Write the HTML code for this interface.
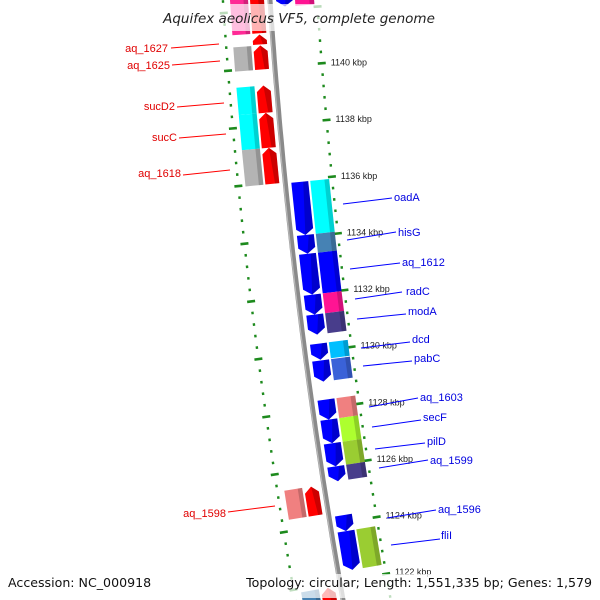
<!DOCTYPE html>
<html><head><meta charset="utf-8"><style>
html,body{margin:0;padding:0;background:#fff;overflow:hidden;width:600px;height:600px}
svg{display:block;font-family:"Liberation Sans","DejaVu Sans",sans-serif}
</style></head><body>
<svg id="map" width="600" height="600" viewBox="0 0 600 600" xmlns="http://www.w3.org/2000/svg">
<g id="ticks"></g>
<g id="backbone"></g>
<g id="genes"></g>
<g id="kbpLabels"></g>
<g font-size="11" fill="#e00000" stroke-width="1">
<line x1="171" y1="48" x2="219" y2="44" stroke="#ff0000"/><text x="168" y="52" text-anchor="end">aq_1627</text>
<line x1="172" y1="65" x2="220" y2="61" stroke="#ff0000"/><text x="170" y="69" text-anchor="end">aq_1625</text>
<line x1="177" y1="107" x2="224" y2="103" stroke="#ff0000"/><text x="175" y="110" text-anchor="end">sucD2</text>
<line x1="179" y1="138" x2="226" y2="134" stroke="#ff0000"/><text x="177" y="141" text-anchor="end">sucC</text>
<line x1="183" y1="175" x2="230" y2="170" stroke="#ff0000"/><text x="181" y="177" text-anchor="end">aq_1618</text>
<line x1="228" y1="512" x2="275" y2="506" stroke="#ff0000"/><text x="226" y="517" text-anchor="end">aq_1598</text>
</g>
<g font-size="11" fill="#0000e0">
<line x1="343" y1="204" x2="392" y2="198" stroke="#0000ff"/><text x="394" y="201">oadA</text>
<line x1="347" y1="240" x2="396" y2="232" stroke="#0000ff"/><text x="398" y="236">hisG</text>
<line x1="350" y1="269" x2="400" y2="263" stroke="#0000ff"/><text x="402" y="266">aq_1612</text>
<line x1="355" y1="299" x2="402" y2="292" stroke="#0000ff"/><text x="406" y="295">radC</text>
<line x1="357" y1="319" x2="406" y2="314" stroke="#0000ff"/><text x="408" y="315">modA</text>
<line x1="361" y1="348" x2="410" y2="342" stroke="#0000ff"/><text x="412" y="343">dcd</text>
<line x1="363" y1="366" x2="412" y2="361" stroke="#0000ff"/><text x="414" y="362">pabC</text>
<line x1="369" y1="407" x2="418" y2="398" stroke="#0000ff"/><text x="420" y="401">aq_1603</text>
<line x1="372" y1="427" x2="421" y2="420" stroke="#0000ff"/><text x="423" y="421">secF</text>
<line x1="375" y1="449" x2="425" y2="443" stroke="#0000ff"/><text x="427" y="445">pilD</text>
<line x1="379" y1="468" x2="428" y2="460" stroke="#0000ff"/><text x="430" y="464">aq_1599</text>
<line x1="387" y1="518" x2="436" y2="510" stroke="#0000ff"/><text x="438" y="513">aq_1596</text>
<line x1="391" y1="545" x2="440" y2="539" stroke="#0000ff"/><text x="441" y="539">fliI</text>
</g>
<rect x="150" y="4" width="300" height="27" fill="#fff" opacity="0.7"/>
<text x="299" y="23" text-anchor="middle" font-size="13.5" font-style="italic" fill="#222" font-family="DejaVu Sans, sans-serif">Aquifex aeolicus VF5, complete genome</text>
<rect x="0" y="574" width="600" height="24" fill="#fff" opacity="0.72"/>
<text x="8" y="587" font-size="12.6" fill="#111" font-family="DejaVu Sans, sans-serif">Accession: NC_000918</text>
<text x="592" y="587" text-anchor="end" font-size="12.6" fill="#111" font-family="DejaVu Sans, sans-serif">Topology: circular; Length: 1,551,335 bp; Genes: 1,579</text>
</svg>
<script>
// ---- data ----
const leftNames  = ["top-left","aq_1627","aq_1625","sucD2","sucC","aq_1618","aq_1598","bottom-left"];
const leftStart  = [1141.21,1140.82,1139.95,1138.44,1137.22,1135.96,1124.39,1120.66];
const leftEnd    = [1143.13,1141.17,1140.79,1139.39,1138.44,1137.22,1125.40,1121.87];
const leftColors = ["#ff2a96",null,"#b4b4b4","#00ffff","#00ffff","#b4b4b4","#f08080","#4682b4"];
const rightNames  = ["top-right","oadA","hisG","aq_1612","radC","modA","dcd","pabC","aq_1603","secF","pilD","aq_1599","aq_1596","fliI"];
const rightStart  = [1142.08,1134.07,1133.41,1131.98,1131.28,1130.58,1129.70,1128.93,1127.60,1126.77,1125.96,1125.44,1123.69,1122.33];
const rightEnd    = [1142.95,1135.93,1134.07,1133.41,1131.98,1131.28,1130.26,1129.67,1128.30,1127.60,1126.77,1125.96,1124.25,1123.69];
const rightColors = ["#ff1493","#00ffff","#4682b4","#0000ff","#ff1493","#483d8b","#00bfff","#3a62d8","#f08080","#adff2f","#9acd32","#483d8b",null,"#9acd32"];
const majorTicks = [1144,1142,1140,1138,1136,1134,1132,1130,1128,1126,1124,1122,1120];
const tickLabels = ["","","1140 kbp","1138 kbp","1136 kbp","1134 kbp","1132 kbp","1130 kbp","1128 kbp","1126 kbp","1124 kbp","1122 kbp",""];

// ---- axis functions ----
const NS="http://www.w3.org/2000/svg";
const PXK=28.6, K0=1140, Y0=67;
function yOf(k){return Y0+(K0-k)*PXK;}
function bx(y){return 270+0.0669*y+0.0000913*y*y;}
function slope(y){return 0.0669+2*0.0000913*y;}
function pos(k,d){const y=yOf(k),s=slope(y),n=Math.sqrt(1+s*s);return [bx(y)+d/n, y-d*s/n];}
function pts(list){return list.map(p=>pos(p[0],p[1]).map(v=>v.toFixed(1)).join(",")).join(" ");}
function mk(tag,attrs,parent){const e=document.createElementNS(NS,tag);for(const a in attrs)e.setAttribute(a,attrs[a]);parent.appendChild(e);return e;}

// backbone
const bb=document.getElementById("backbone");
let bpts=[];for(let y=-20;y<=620;y+=10)bpts.push(bx(y).toFixed(1)+","+y);
const bl=mk("polyline",{points:bpts.join(" "),fill:"none",stroke:"#8a8a8a","stroke-width":5},bb);


let bpts2=[];for(let y=-20;y<=620;y+=10)bpts2.push((bx(y)-1.6).toFixed(1)+","+y);
mk("polyline",{points:bpts2.join(" "),fill:"none",stroke:"#b8b8b8","stroke-width":1.2},bb);

// ticks
const tg=document.getElementById("ticks");
for(const side of [-47,47]){
  for(let i=0;i<majorTicks.length-1;i++){
    const k=majorTicks[i];
    for(let j=0;j<5;j++){
      const kk=k-j*0.4, major=(j===0);
      const a=pos(kk,side-(major?4:1.2)), b=pos(kk,side+(major?4:1.2));
      const t=mk("line",{x1:a[0],y1:a[1],x2:b[0],y2:b[1],stroke:"#1d8a1d","stroke-width":2.6},tg);
      
      
    }
  }
}
const kl=document.getElementById("kbpLabels");
majorTicks.forEach((k,i)=>{
  if(!tickLabels[i])return;
  const p=pos(k,56);
  const t=mk("text",{x:p[0].toFixed(1),y:(p[1]+3).toFixed(1),"font-size":9,fill:"#222"},kl);
  t.textContent=tickLabels[i];
  
  
});

// genes
const gg=document.getElementById("genes");
const H=6/PXK;
function box(k1,k2,d1,d2,color,name){
  const g=mk("g",{},gg);
  
  
  mk("polygon",{points:pts([[k2,d1],[k2,d2],[k1,d2],[k1,d1]]),fill:color},g);
  const dm=d2-(d2-d1)*0.25;
  mk("polygon",{points:pts([[k2,dm],[k2,d2],[k1,d2],[k1,dm]]),fill:"rgba(0,0,0,0.18)"},g);
}
function arrow(k1,k2,d1,d2,color,fwd,name){
  const g=mk("g",{},gg);
  
  
  const h=Math.min(H,(k2-k1)*0.6), dm=(d1+d2)/2;
  let p;
  if(fwd) p=[[k1,d1],[k1,d2],[k2-h,d2],[k2,dm],[k2-h,d1]];
  else p=[[k2,d1],[k2,d2],[k1+h,d2],[k1,dm],[k1+h,d1]];
  mk("polygon",{points:pts(p),fill:color},g);
  const ds=d2-(d2-d1)*0.3;
  let q;
  if(fwd) q=[[k1,ds],[k1,d2],[k2-h,d2],[k2,dm]];
  else q=[[k2,ds],[k2,d2],[k1+h,d2],[k1,dm]];
  mk("polygon",{points:pts(q),fill:"rgba(0,0,0,0.2)"},g);
}
leftNames.forEach((n,i)=>{
  if(leftColors[i])box(leftStart[i],leftEnd[i],-40,-22,leftColors[i],n);
  arrow(leftStart[i],leftEnd[i],-20,-6,"#ff0000",true,n);
});
rightNames.forEach((n,i)=>{
  arrow(rightStart[i],rightEnd[i],6,23,"#0000ff",false,n);
  if(rightColors[i])box(rightStart[i],rightEnd[i],25,44,rightColors[i],n);
});
</script>
</body></html>
